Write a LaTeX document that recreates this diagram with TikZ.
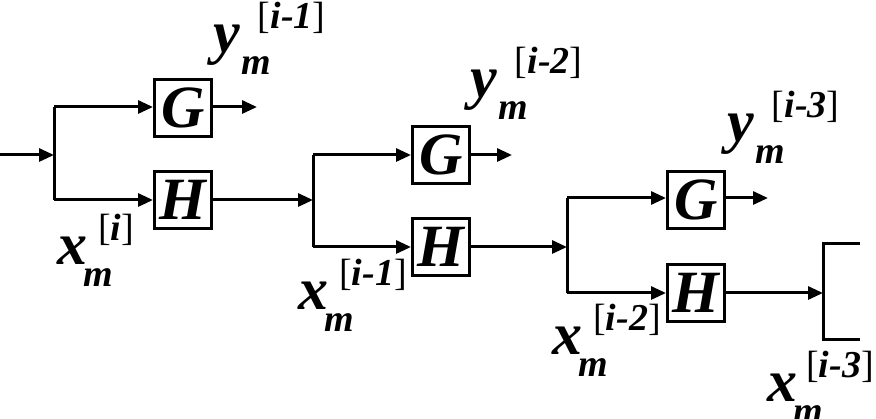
\documentclass[tikz,border=0pt]{standalone}
\usepackage{fontspec}
\setmainfont{Liberation Serif}
\usetikzlibrary{arrows.meta}
\newcommand\biglab[4]{{\fontsize{60}{60}\selectfont\bfseries\itshape #1}\kern#3\rlap{\raisebox{-22pt}{\fontsize{38}{38}\selectfont\bfseries\itshape m}}\kern#4\raisebox{24pt}{\fontsize{38}{38}\selectfont[\textbf{\textit{#2}}]}}
\tikzset{
  blk/.style={draw, line width=3pt, minimum size=57pt, inner sep=0pt, font=\fontsize{60}{60}\selectfont\bfseries\itshape},
  wire/.style={line width=3pt},
  arr/.style={line width=3pt, -{Triangle[length=15pt,width=13pt]}},
  lab/.style={anchor=base west, inner sep=0pt}
}
\begin{document}
\begin{tikzpicture}[x=1pt,y=-1pt]
\useasboundingbox (0,0) rectangle (876,419);
% boxes
\node[blk] (G1) at (183,108) {G};
\node[blk] (H1) at (183,200) {H};
\node[blk] (G2) at (441,155) {G};
\node[blk] (H2) at (441,247) {H};
\node[blk] (G3) at (696,200) {G};
\node[blk] (H3) at (696,293) {H};
% coordinates
\coordinate (in) at (0,155);
\coordinate (b1) at (54,155);
\coordinate (b1t) at (54,107);
\coordinate (b1b) at (54,200);
\coordinate (o1) at (257,107);
\coordinate (b2) at (313,200);
\coordinate (b2t) at (313,155);
\coordinate (b2b) at (313,247);
\coordinate (o2) at (512,155);
\coordinate (b3) at (567,247);
\coordinate (b3t) at (567,198);
\coordinate (b3b) at (567,293);
\coordinate (o3) at (768,198);
\coordinate (b4) at (823,293);
\coordinate (b4t) at (823,244);
\coordinate (b4b) at (823,340);
\coordinate (s4t) at (860,244);
\coordinate (s4b) at (860,340);
% stage 1
\draw[arr] (in) -- (b1);
\draw[wire] (b1t) -- (b1b);
\draw[arr] (b1t) -- (G1.west |- b1t);
\draw[arr] (b1b) -- (H1.west |- b1b);
\draw[arr] (G1.east |- o1) -- (o1);
\draw[arr] (H1.east |- b2) -- (b2);
% stage 2
\draw[wire] (b2t) -- (b2b);
\draw[arr] (b2t) -- (G2.west |- b2t);
\draw[arr] (b2b) -- (H2.west |- b2b);
\draw[arr] (G2.east |- o2) -- (o2);
\draw[arr] (H2.east |- b3) -- (b3);
% stage 3
\draw[wire] (b3t) -- (b3b);
\draw[arr] (b3t) -- (G3.west |- b3t);
\draw[arr] (b3b) -- (H3.west |- b3b);
\draw[arr] (G3.east |- o3) -- (o3);
\draw[arr] (H3.east |- b4) -- (b4);
% stage 4 stub
\draw[wire] (s4t) -- (b4t) -- (b4b) -- (s4b);
% labels
\node[lab] (y1) at (213,53) {\biglab{y}{i-1}{2pt}{16pt}};
\node[lab] (y2) at (470,98) {\biglab{y}{i-2}{2pt}{16pt}};
\node[lab] (y3) at (727,142) {\biglab{y}{i-3}{2pt}{16pt}};
\node[lab] (x1) at (57,265) {\biglab{x}{i}{-4pt}{15pt}};
\node[lab] (x2) at (298,310) {\biglab{x}{i-1}{-4pt}{15pt}};
\node[lab] (x3) at (552,355) {\biglab{x}{i-2}{-4pt}{15pt}};
\node[lab] (x4) at (767,402) {\biglab{x}{i-3}{-4pt}{13pt}};
\end{tikzpicture}
\end{document}
